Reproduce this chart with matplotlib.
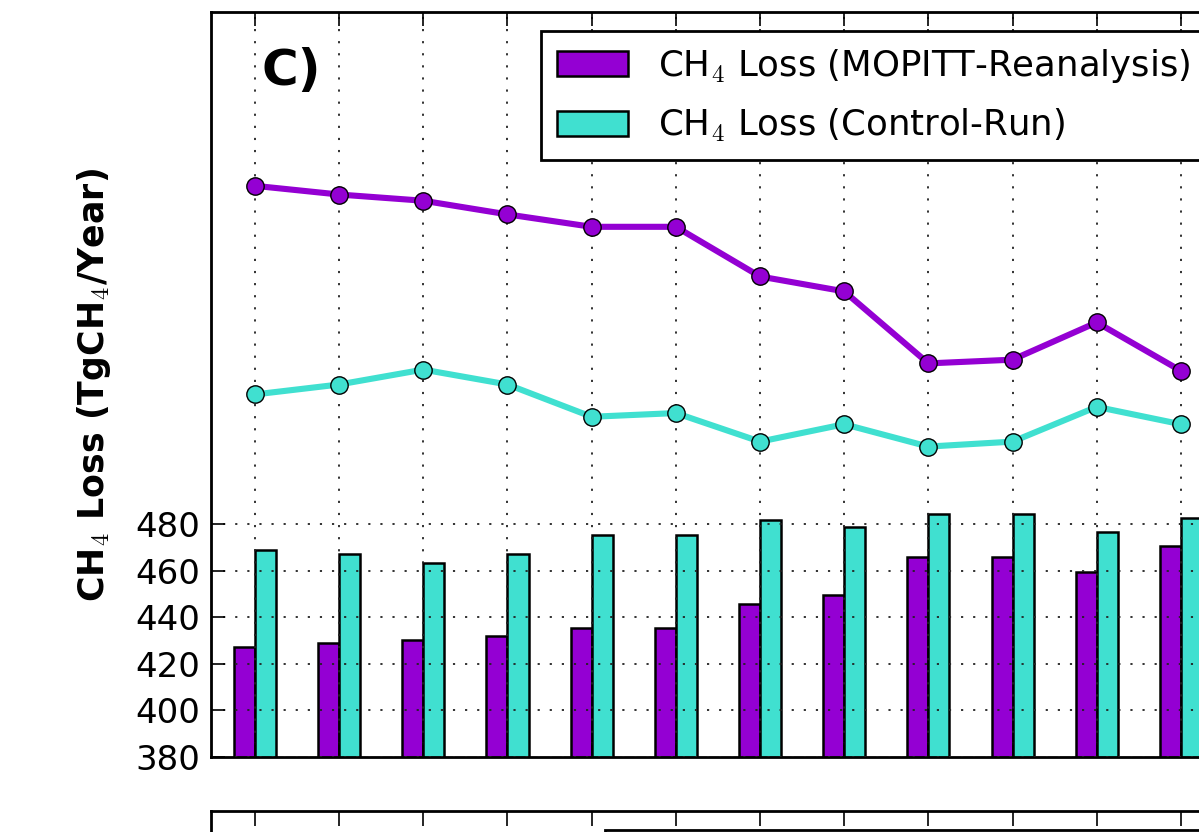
import matplotlib
matplotlib.use("Agg")
import matplotlib.pyplot as plt
import numpy as np
from matplotlib.patches import Rectangle

plt.rcParams['font.family'] = ['DejaVu Sans']
plt.rcParams['mathtext.fontset'] = 'cm'

# ---- data ----
years = [2002, 2003, 2004, 2005, 2006, 2007, 2008, 2009, 2010, 2011, 2012, 2013]
loss_mopitt = [427.3, 429.1, 430.2, 432.1, 435.6, 435.6, 445.7, 449.4, 466.0, 466.0, 459.5, 470.6]
loss_control = [468.8, 467.1, 463.4, 467.1, 475.3, 475.4, 481.7, 478.8, 484.3, 484.3, 476.8, 482.6]
# line series on the (cropped, unseen) secondary axis
line_mopitt = [10.60, 10.53, 10.48, 10.37, 10.27, 10.27, 9.87, 9.75, 9.17, 9.20, 9.50, 9.11]
line_control = [8.92, 9.00, 9.12, 9.00, 8.74, 8.77, 8.54, 8.68, 8.50, 8.54, 8.82, 8.68]
bar_yticks = [380, 400, 420, 440, 460, 480]
label_mopitt = r'CH$_4$ Loss (MOPITT-Reanalysis)'
label_control = r'CH$_4$ Loss (Control-Run)'
ylabel = r'CH$_4$ Loss (TgCH$_4$/Year)'
panel = 'C)'

c_purple = '#9400D3'
c_cyan = '#40E0D0'

W, H = 1199, 832
fig = plt.figure(figsize=(W / 100, H / 100), dpi=100)

def px(x0, y0, x1, y1):
    return [x0 / W, 1 - y1 / H, (x1 - x0) / W, (y1 - y0) / H]

xlim = (-0.522, 11.5)
spacing = 84.18
right_px = 211 + (xlim[1] - xlim[0]) * spacing

dotted = (0, (1.2, 5.5))

ax = fig.add_axes(px(211, 12, right_px, 757))
x = np.arange(len(years))
w = 0.25
ax.bar(x - w, loss_mopitt, width=w, align='edge', color=c_purple,
       edgecolor='black', linewidth=1.8, label=label_mopitt, zorder=2)
ax.bar(x, loss_control, width=w, align='edge', color=c_cyan,
       edgecolor='black', linewidth=1.8, label=label_control, zorder=2)
ax.set_xlim(*xlim)
ax.set_ylim(380, 700)
ax.set_yticks(bar_yticks)
ax.set_xticks(x)
ax.set_xticklabels([])
ax.grid(True, color='#222222', linestyle=dotted, linewidth=1.3)
ax.set_axisbelow(False)
ax.tick_params(axis='both', direction='in', length=10, width=1.2,
               top=True, right=False, labelsize=24.5, pad=8)
for s in ax.spines.values():
    s.set_linewidth(2.0)

ax2 = ax.twinx()
ax2.plot(x, line_mopitt, '-o', color=c_purple, linewidth=4.4, markersize=12.5,
         markeredgecolor='black', markeredgewidth=1.0, zorder=3)
ax2.plot(x, line_control, '-o', color=c_cyan, linewidth=4.4, markersize=12.5,
         markeredgecolor='black', markeredgewidth=1.0, zorder=3)
ax2.set_ylim(6, 12)
ax2.tick_params(direction='in', length=10, labelright=False)

h, l = ax.get_legend_handles_labels()
leg = ax2.legend(h, l, loc='upper left', bbox_to_anchor=(541 / W, 1 - 31 / H),
                 bbox_transform=fig.transFigure, borderaxespad=0,
                 fontsize=25.6, fancybox=False, frameon=True, framealpha=1.0,
                 handlelength=2.0, handleheight=0.7, handletextpad=0.85,
                 labelspacing=0.62, borderpad=0.45)
leg.get_frame().set_edgecolor('black')
leg.get_frame().set_linewidth(2.0)

fig.text(262 / W, 1 - 85 / H, panel, fontsize=36, fontweight='bold',
         ha='left', va='baseline')
fig.text(94 / W, 1 - 385 / H, ylabel, fontsize=25, fontweight='bold',
         rotation=90, ha='center', va='center')

# lower panel (cropped in the reference)
ax3 = fig.add_axes(px(211, 811, right_px, 1400))
ax3.set_xlim(*xlim)
ax3.set_xticks(x)
ax3.set_xticklabels([])
ax3.set_yticks([])
ax3.tick_params(axis='x', direction='in', length=11, width=1.2, top=True, bottom=False)
for s in ax3.spines.values():
    s.set_linewidth(2.0)
ax3.add_patch(Rectangle((605 / W, 1 - 1000 / H), 1.0, (1000 - 830) / H,
                        transform=fig.transFigure, fill=False,
                        edgecolor='black', linewidth=2.0, clip_on=False))

fig.savefig('out.png', dpi=100)
